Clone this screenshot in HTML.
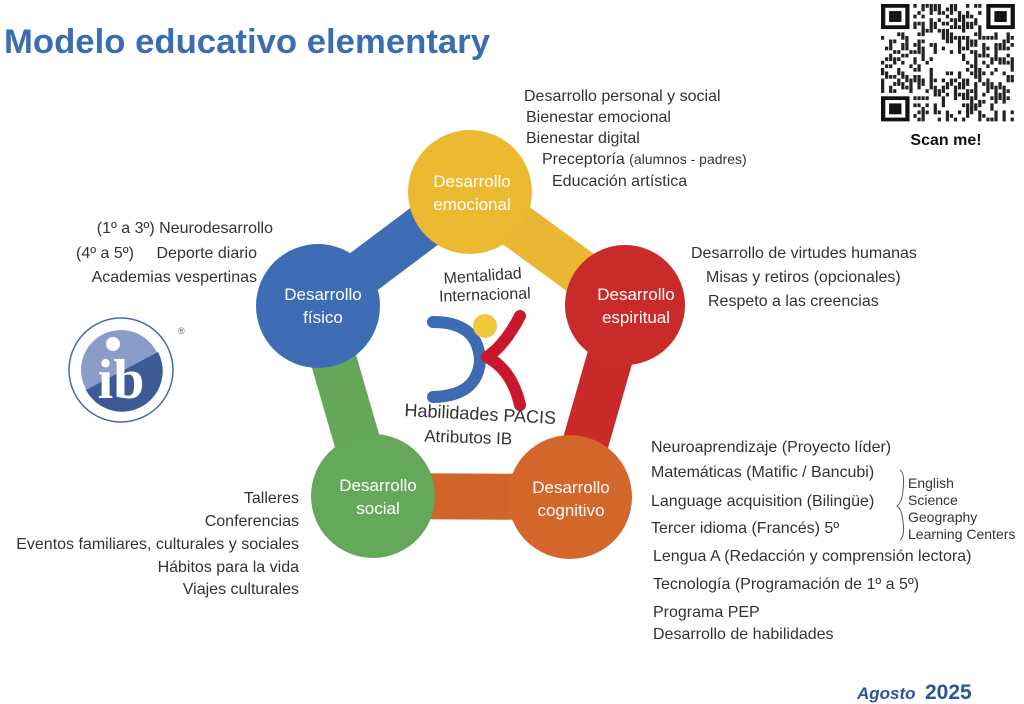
<!DOCTYPE html>
<html><head><meta charset="utf-8"><style>
html,body{margin:0;padding:0;background:#fff;}
body{width:1024px;height:704px;position:relative;overflow:hidden;font-family:"Liberation Sans",sans-serif;}
svg{position:absolute;left:0;top:0;}
.t{font-family:"Liberation Sans",sans-serif;font-size:16px;fill:#333;}
.c{font-family:"Liberation Sans",sans-serif;font-size:17px;fill:#fff;text-anchor:middle;}
</style></head><body>
<svg width="1024" height="704" viewBox="0 0 1024 704" xmlns="http://www.w3.org/2000/svg">
<text x="4" y="53" font-family="Liberation Sans" font-size="34" font-weight="bold" fill="#3B6DB3" textLength="486" lengthAdjust="spacingAndGlyphs">Modelo educativo elementary</text>
<g stroke-width="46" stroke-linecap="butt">
<line x1="470" y1="192" x2="625" y2="305" stroke="#E9B733"/>
<line x1="625" y1="305" x2="570" y2="497" stroke="#C72A29"/>
<line x1="570" y1="497" x2="373" y2="496" stroke="#D0642A"/>
<line x1="373" y1="496" x2="318" y2="306" stroke="#65A65A"/>
<line x1="318" y1="306" x2="470" y2="192" stroke="#3F6DB5"/>
</g>
<circle cx="470" cy="192" r="62" fill="#ECBA31"/>
<circle cx="625" cy="305" r="60" fill="#C92B2A"/>
<circle cx="570" cy="497" r="62" fill="#D2662B"/>
<circle cx="373" cy="496" r="62" fill="#66A85B"/>
<circle cx="318" cy="306" r="62" fill="#3F6DB5"/>
<text class="c" x="472" y="187">Desarrollo</text><text class="c" x="472" y="210">emocional</text>
<text class="c" x="636" y="300">Desarrollo</text><text class="c" x="636" y="323">espiritual</text>
<text class="c" x="571" y="493">Desarrollo</text><text class="c" x="571" y="516">cognitivo</text>
<text class="c" x="378" y="491">Desarrollo</text><text class="c" x="378" y="514">social</text>
<text class="c" x="323" y="300">Desarrollo</text><text class="c" x="323" y="323">físico</text>
<text x="483" y="281" font-size="16" fill="#333" text-anchor="middle" transform="rotate(-4 483 281)">Mentalidad</text>
<text x="485" y="300" font-size="16" fill="#333" text-anchor="middle" transform="rotate(-2 485 300)">Internacional</text>
<path d="M433 322 Q478 322 480 360 Q478 396 433 397" fill="none" stroke="#3E6AB3" stroke-width="12" stroke-linecap="round"/>
<circle cx="485" cy="326" r="12" fill="#F0C93A"/>
<path d="M520 316 Q505 345 487 357 Q512 370 520 405" fill="none" stroke="#C9182C" stroke-width="12" stroke-linecap="round" stroke-linejoin="round"/>
<text x="480" y="420" font-size="18" fill="#333" text-anchor="middle" transform="rotate(3 480 420)">Habilidades PACIS</text>
<text x="468" y="443" font-size="17" fill="#333" text-anchor="middle" transform="rotate(2 468 443)">Atributos IB</text>
<g class="t">
<text x="524" y="101">Desarrollo personal y social</text>
<text x="526" y="122">Bienestar emocional</text>
<text x="526" y="143">Bienestar digital</text>
<text x="542" y="164">Preceptoría <tspan font-size="14">(alumnos - padres)</tspan></text>
<text x="552" y="186">Educación artística</text>
<text x="691" y="258">Desarrollo de virtudes humanas</text>
<text x="706" y="282">Misas y retiros (opcionales)</text>
<text x="708" y="306">Respeto a las creencias</text>
<text x="273" y="233" text-anchor="end">(1º a 3º) Neurodesarrollo</text>
<text x="76" y="258">(4º a 5º)</text><text x="257" y="258" text-anchor="end">Deporte diario</text>
<text x="257" y="282" text-anchor="end">Academias vespertinas</text>
<text x="299" y="503" text-anchor="end">Talleres</text>
<text x="299" y="526" text-anchor="end">Conferencias</text>
<text x="299" y="549" text-anchor="end">Eventos familiares, culturales y sociales</text>
<text x="299" y="572" text-anchor="end">Hábitos para la vida</text>
<text x="299" y="594" text-anchor="end">Viajes culturales</text>
<text x="651" y="452">Neuroaprendizaje (Proyecto líder)</text>
<text x="651" y="477">Matemáticas (Matific / Bancubi)</text>
<text x="651" y="506">Language acquisition (Bilingüe)</text>
<text x="651" y="533">Tercer idioma (Francés) 5º</text>
<text x="653" y="561">Lengua A (Redacción y comprensión lectora)</text>
<text x="653" y="589">Tecnología (Programación de 1º a 5º)</text>
<text x="653" y="617">Programa PEP</text>
<text x="653" y="639">Desarrollo de habilidades</text>
<g font-size="14"><text x="908" y="488">English</text><text x="908" y="505">Science</text><text x="908" y="522">Geography</text><text x="908" y="539">Learning Centers</text></g>
</g>
<path d="M900 470 Q905 473 903 490 Q902 503 897 506 Q902 509 903 522 Q905 536 900 540" fill="none" stroke="#555" stroke-width="1"/>
<circle cx="121" cy="370" r="52" fill="#fff" stroke="#4A66A6" stroke-width="1.5"/>
<circle cx="121" cy="370" r="40" fill="#8C9CC8"/>
<path d="M86 390 L158 352 A40 40 0 0 1 86 390 Z" fill="#3B5A96"/>
<circle cx="113" cy="344" r="7" fill="#fff"/>
<text x="121" y="398" font-family="Liberation Serif" font-size="56" font-weight="bold" fill="#fff" text-anchor="middle">ib</text>
<text x="178" y="334" font-size="9" fill="#4A66A6">®</text>
<text x="857" y="699" font-family="Liberation Sans" font-size="17" font-weight="bold" font-style="italic" fill="#2D5398">Agosto</text>
<text x="925" y="699" font-family="Liberation Sans" font-size="21" font-weight="bold" fill="#2D5398">2025</text>
<text x="946" y="145" font-family="Liberation Sans" font-size="16" font-weight="bold" fill="#111" text-anchor="middle">Scan me!</text>
<g id="qr"></g>
</svg>
<script>
(function(){
var g=document.getElementById('qr'),ns='http://www.w3.org/2000/svg',x0=881,y0=4,n=33,sx=4.05,sy=3.55,seed=7;
function r(){seed=(seed*1103515245+12345)%2147483648;return seed/2147483648;}
function rect(x,y,w,h,f){var e=document.createElementNS(ns,'rect');e.setAttribute('x',x);e.setAttribute('y',y);e.setAttribute('width',w);e.setAttribute('height',h);e.setAttribute('fill',f);g.appendChild(e);}
function fin(i,j){for(var a=0;a<7;a++)for(var b=0;b<7;b++){var d=(a==0||a==6||b==0||b==6||(a>=2&&a<=4&&b>=2&&b<=4));if(d)rect(x0+(i+a)*sx,y0+(j+b)*sy,sx+0.2,sy+0.2,'#111');}}
for(var i=0;i<n;i++)for(var j=0;j<n;j++){
if((i<8&&j<8)||(i>n-9&&j<8)||(i<8&&j>n-9))continue;
if(i>12&&i<20&&j>13&&j<19)continue;
if(r()<0.45)rect(x0+i*sx,y0+j*sy,sx*0.8,sy+0.2,'#222');}
fin(0,0);fin(n-7,0);fin(0,n-7);
})();
</script>
</body></html>
